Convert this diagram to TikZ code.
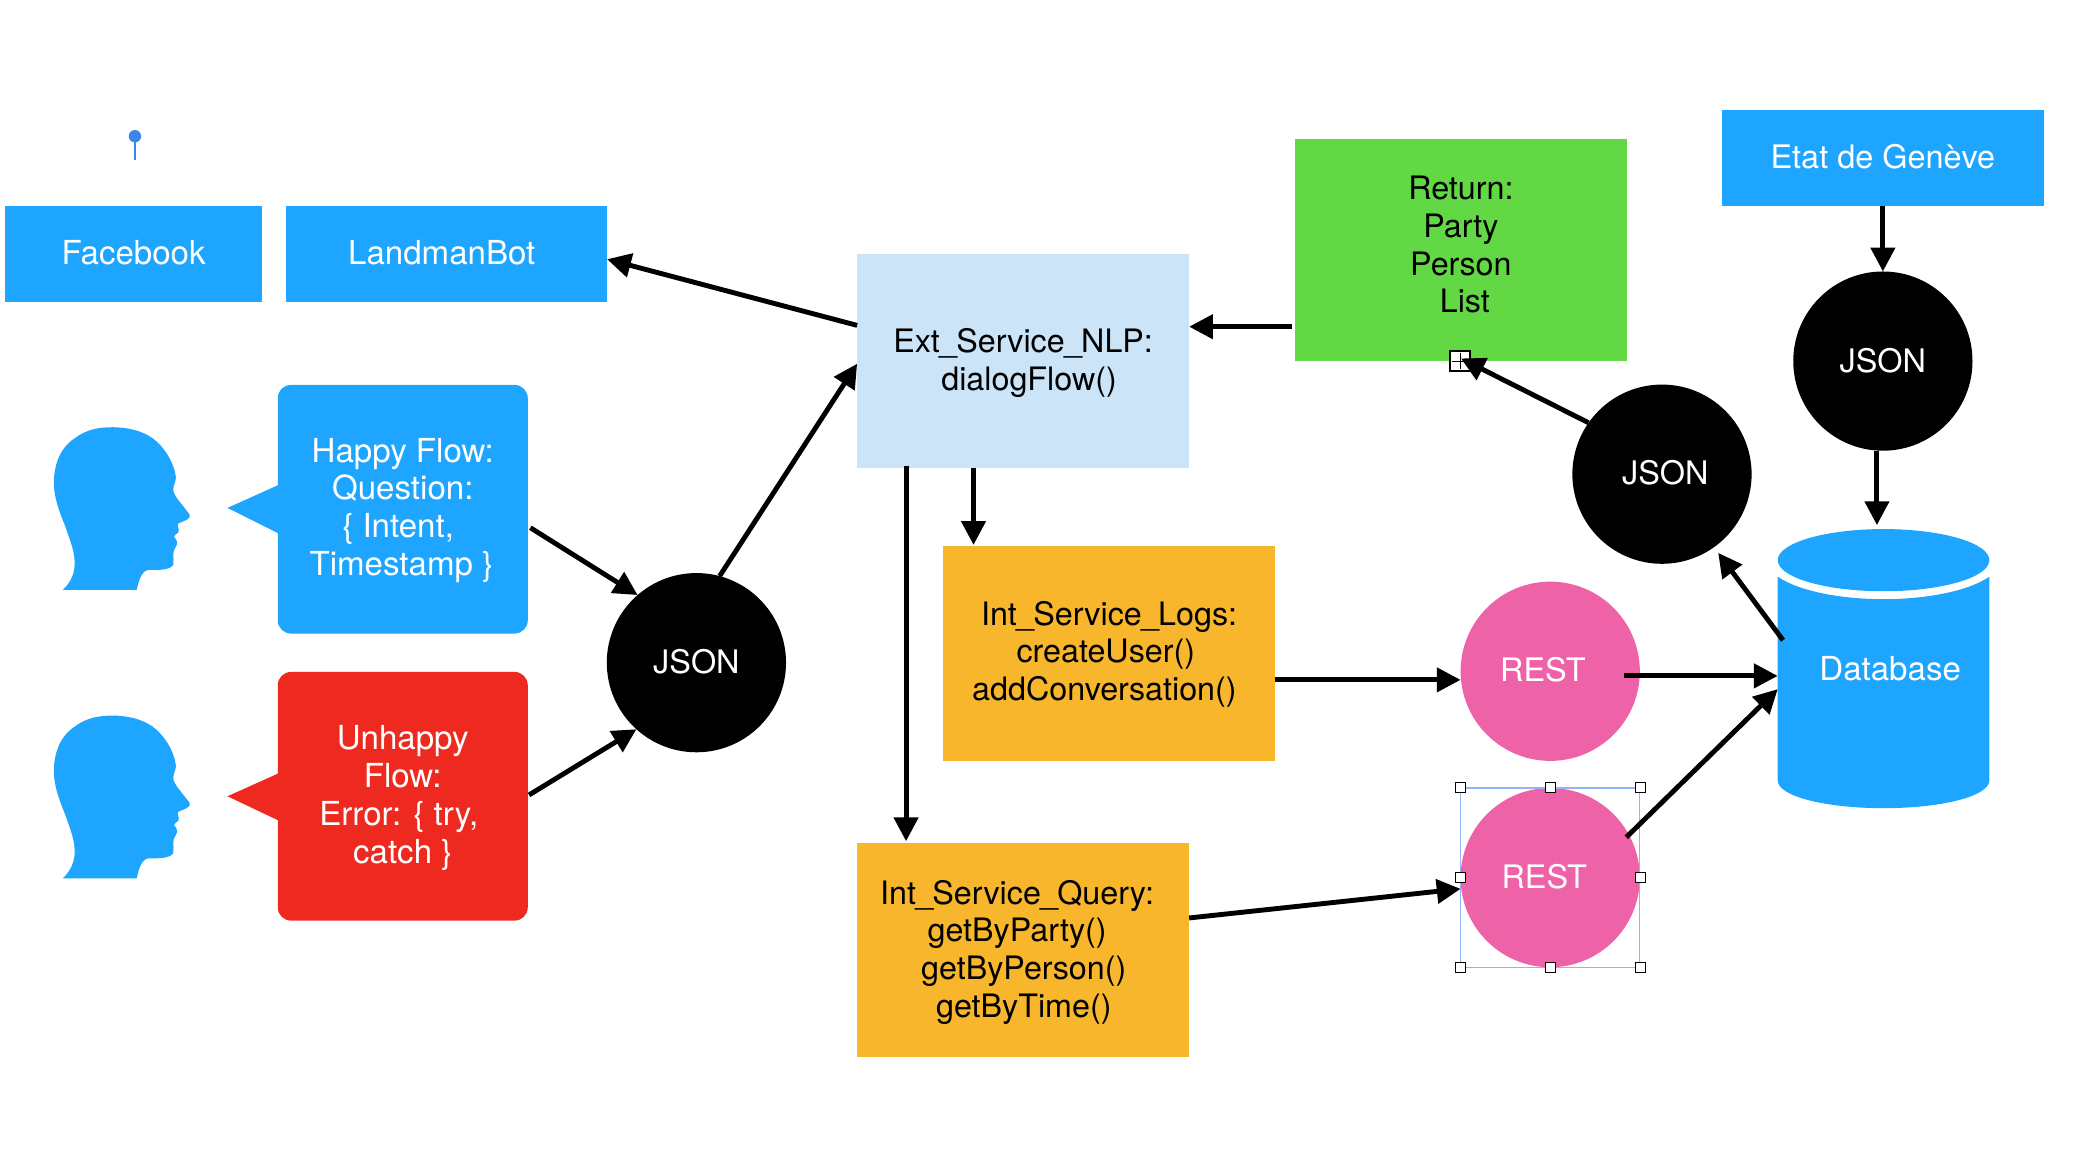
\documentclass[tikz,border=0pt]{standalone}
\usepackage{fontspec}
\setmainfont{TeX Gyre Heros}
\usetikzlibrary{arrows.meta}
\definecolor{cblue}{HTML}{1DA5FF}
\definecolor{cred}{HTML}{EE2A20}
\definecolor{cpale}{HTML}{CCE4F7}
\definecolor{cgreen}{HTML}{62D845}
\definecolor{corange}{HTML}{F7B62B}
\definecolor{cpink}{HTML}{EE62A8}
\definecolor{cpin}{HTML}{3B86E8}
\definecolor{csel}{HTML}{8FB4FA}
\newcommand{\usc}{\kern-0.6pt\_\kern-0.6pt}
\newcommand{\txtlines}[2]{\raisebox{#1}[\height][\depth]{\begin{tabular}{@{}c@{}}#2\end{tabular}}}
\newcommand{\txtline}[2]{\raisebox{#1}[\height][\depth]{#2}}
\tikzset{
  base/.style={inner sep=0pt,outer sep=0pt,align=center,font=\fontsize{25}{28.5}\selectfont},
  wbox/.style={base,rectangle,fill=cblue,text=white,minimum width=#1,minimum height=72.5pt},
  cbox/.style={base,rectangle,text=black,minimum width=251pt,minimum height=162pt,font=\fontsize{24.4}{28.5}\selectfont},
  bubble/.style={base,rectangle,rounded corners=10pt,text=white,minimum width=189pt,minimum height=188pt},
  ball/.style={base,circle,text=white,minimum size=135.5pt,font=\fontsize{24.5}{28.5}\selectfont},
  arr/.style={line width=3.7pt,draw=black,-{Triangle[length=18pt,width=18pt]}},
  grip/.style={rectangle,draw=black,fill=white,line width=0.7pt,minimum size=7.5pt,inner sep=0pt},
  headshape/.pic={
    \fill[cblue] (47.5,123) .. controls (54,117) and (57,109) .. (56.4,101)
      .. controls (56,92) and (52,83) .. (49,74)
      .. controls (44,62) and (40.7,52) .. (40.7,41.5)
      .. controls (41,27) and (46,15) .. (57,8)
      .. controls (65,2) and (74,0) .. (85,0)
      .. controls (97,0) and (110,3) .. (118.7,11)
      .. controls (127,19) and (132,29) .. (133,38)
      .. controls (133,41) and (131,44) .. (131,47)
      .. controls (131,50) and (133,52) .. (134,54)
      -- (143.4,66)
      .. controls (145,69) and (139,71) .. (135,72.6)
      .. controls (133,74) and (136,77) .. (135,79.4)
      .. controls (134,81) and (131.5,81) .. (131.5,82.7)
      .. controls (132,84) and (134,85) .. (134,87)
      .. controls (134,90) and (131,92) .. (131,95.7)
      .. controls (131,98) and (131.5,101) .. (131,103.8)
      .. controls (129,108) and (120,108) .. (112.8,107.9)
      .. controls (107,108) and (105,116) .. (103.3,123) -- cycle;
  }
}
\begin{document}
\begin{tikzpicture}[x=1pt,y=-1pt]
\useasboundingbox (0,0) rectangle (1568,874);
% pin
\fill[cpin] (102,103) circle (4.7pt);
\draw[cpin,line width=1.6pt] (102,103) -- (102,121);
% heads
\pic at (0,323) {headshape};
\pic at (0,541) {headshape};
% callout tails
\fill[cblue] (172,384) -- (212,366) -- (212,404) -- cycle;
\fill[cred] (172,602) -- (212,584) -- (212,621) -- cycle;
% cylinder
\fill[cblue] (1344,436) .. controls (1360,447) and (1392,453) .. (1424,453)
  .. controls (1456,453) and (1488,447) .. (1504,436) -- (1504,590)
  .. controls (1504,602) and (1468,611) .. (1424,611)
  .. controls (1380,611) and (1344,602) .. (1344,590) -- cycle;
\fill[cblue] (1424,423.5) ellipse [x radius=80,y radius=23.5];
% nodes
\node[wbox=194pt] (fb) at (101,192) {\txtline{1pt}{Facebook}};
\node[wbox=243pt] (bot) at (337.5,192) {\hspace*{-7pt}\txtline{1pt}{LandmanBot}};
\node[wbox=243pt,font=\fontsize{24.5}{28.5}\selectfont] (etat) at (1423.5,119.5) {\txtline{1pt}{Etat de Genève}};
\node[bubble,fill=cblue] (happy) at (304.5,385) {\txtlines{-1.5pt}{Happy Flow:\\Question:\\\hspace*{-7pt}\{ Intent,\\\hspace*{-2pt}Timestamp \}}};
\node[bubble,fill=cred] (unhappy) at (304.5,602) {\txtlines{-2pt}{Unhappy\\Flow:\\\hspace*{-6pt}Error: \{ try,\\catch \}}};
\node[cbox,fill=cpale] (nlp) at (773.5,273) {\txtlines{-2pt}{Ext\usc Service\usc NLP:\\\hspace*{9pt}dialogFlow()}};
\node[cbox,fill=cgreen,minimum height=168pt] (ret) at (1104.5,189) {\txtlines{1pt}{Return:\\Party\\Person\\\hspace*{6pt}List}};
\node[cbox,fill=corange] (logs) at (838.5,494) {\txtlines{-1.5pt}{Int\usc Service\usc Logs:\\\hspace*{-5pt}createUser()\\\hspace*{-7pt}addConversation()}};
\node[cbox,fill=corange] (query) at (773.5,718) {\txtlines{-2.5pt}{\hspace*{-9pt}Int\usc Service\usc Query:\\\hspace*{-9pt}getByParty()\\\hspace*{1pt}getByPerson()\\\hspace*{1pt}getByTime()}};
\node[ball,fill=black] (j1) at (1423.5,273) {JSON};
\node[ball,fill=black] (j2) at (1256.5,358.5) {\hspace*{5pt}\txtline{1.5pt}{JSON}};
\node[ball,fill=black] (j3) at (526.5,501) {\txtline{1pt}{JSON}};
\node[ball,fill=cpink] (r1) at (1172,507.5) {\hspace*{-11pt}\txtline{1pt}{REST}};
\node[ball,fill=cpink] (r2) at (1172,663.5) {\hspace*{-9pt}\txtline{1pt}{REST}};
\node[base,text=white,minimum width=160pt,minimum height=211pt] (db) at (1424,505.5) {\hspace*{10pt}Database};
% selection frame
\node[rectangle,draw=csel,line width=0.9pt,minimum size=135.5pt,inner sep=0pt] (frame) at (r2.center) {};
\foreach \a/\n in {north west/a,north/b,north east/c,west/d,east/e,south west/f,south/g,south east/h}
  \node[grip] (grip\n) at (frame.\a) {};
% connection handle
\node[rectangle,draw=black,fill=white,line width=1.5pt,minimum size=15pt,inner sep=0pt] (plus) at (1104,273) {};
\draw[black,line width=0.9pt] ([xshift=2pt]plus.west) -- ([xshift=-2pt]plus.east) ([yshift=-2pt]plus.north) -- ([yshift=2pt]plus.south);
% connectors
\draw[arr] ([yshift=27pt]nlp.west) -- ([yshift=-4pt]bot.east);
\draw[arr] ([xshift=-2pt,yshift=-58pt]ret.west) -- ([yshift=26pt]nlp.east);
\draw[arr] (etat.south) -- (j1.north);
\draw[arr] ([xshift=-4.5pt]j1.south) -- ([xshift=-5pt,yshift=3pt]db.north);
\draw[arr] (j2.145) -- ([yshift=2pt]ret.south);
\draw[arr] ([xshift=4pt,yshift=21.5pt]db.west) -- ([xshift=42.5pt,yshift=-59.5pt]j2.center);
\draw[arr] ([xshift=55.5pt,yshift=-3.5pt]r1.center) -- ([yshift=-5.5pt]db.west);
\draw[arr] ([xshift=57.5pt,yshift=30.5pt]r2.center) -- ([yshift=-15.5pt]db.west);
\draw[arr] ([yshift=-20pt]logs.east) -- ([yshift=-6.5pt]r1.west);
\draw[arr] ([yshift=24pt]query.east) -- ([yshift=-8.5pt]r2.west);
\draw[arr] ([xshift=-88.5pt,yshift=2pt]nlp.south) -- ([xshift=-88.5pt,yshift=1pt]query.north);
\draw[arr] ([xshift=-37.5pt]nlp.south) -- ([xshift=-102.5pt,yshift=1pt]logs.north);
\draw[arr] (j3.75) -- ([yshift=-2pt]nlp.west);
\draw[arr] ([xshift=2pt,yshift=-14pt]happy.east) -- (j3.131);
\draw[arr] ([xshift=1pt,yshift=1pt]unhappy.east) -- (j3.228);
\end{tikzpicture}
\end{document}
